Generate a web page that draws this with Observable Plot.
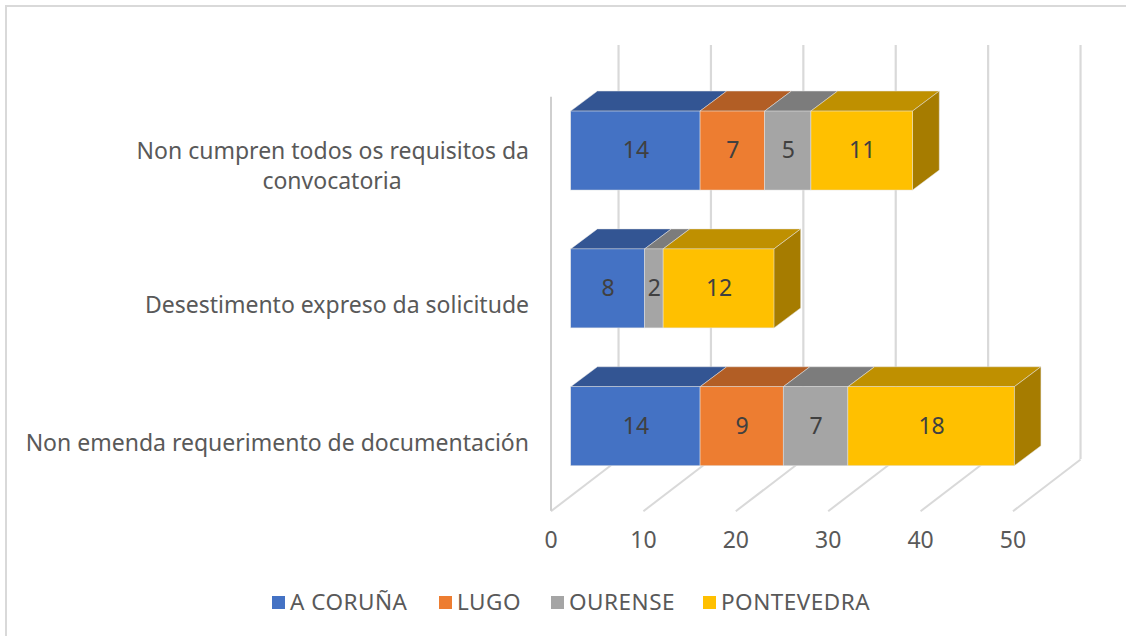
<!DOCTYPE html>
<html><head><meta charset="utf-8">
<script src="https://cdn.jsdelivr.net/npm/d3@7"></script>
<script src="https://cdn.jsdelivr.net/npm/@observablehq/plot@0.6"></script>
<style>
html,body{margin:0;padding:0;background:#fff;width:1126px;height:636px;overflow:hidden;font-family:"Noto Sans",sans-serif}
#frameTop{position:absolute;left:5px;top:5px;width:1121px;height:2px;background:#d9d9d9}
#frameLeft{position:absolute;left:5px;top:5px;width:2px;height:631px;background:#d9d9d9}
#chart{position:absolute;left:0;top:0}
#chart svg{display:block;background:transparent}
#legend{position:absolute;left:0;top:585px;width:1126px;height:51px;color:#595959;font-size:22.5px;letter-spacing:.5px}
.item{position:absolute;top:2px;height:30px;line-height:30px;white-space:nowrap}
.sw{position:absolute}
</style></head><body>
<div id="frameTop"></div><div id="frameLeft"></div><div id="chart"></div><div id="legend"></div>
<script>
const categories = ["Non emenda requerimento de documentación","Desestimento expreso da solicitude","Non cumpren todos os requisitos da"];
const secondLine = ["","","convocatoria"];
const series = ["A CORUÑA","LUGO","OURENSE","PONTEVEDRA"];
const coruna = [14,8,14];
const lugo = [9,null,7];
const ourense = [7,2,5];
const pontevedra = [18,12,11];
const xTicks = [0,10,20,30,40,50];
const frontColors = ["#4472C4","#ED7D31","#A5A5A5","#FFC000"];
const topColors = ["#335593","#B25E25","#7C7C7C","#BF9000"];
const sideColor = "#A67C00";

// geometry in scale units
const levelBase = 0.326, levelHeight = 0.573;
const barX0 = 2.186, barDepthX = 2.89, barDepthY = 0.145;
const wallDepthX = 7.31, wallDepthY = 0.375, wallTop = 3.378;
const oneLineShift = 0.112;

const columns = [coruna,lugo,ourense,pontevedra];
const segs = [];
categories.forEach((c,i)=>{
  let s = barX0;
  columns.forEach((col,j)=>{
    const v = col[i];
    if(v==null) return;
    segs.push({i,j,value:v,x1:s,x2:s+v,y1:levelBase+i,y2:levelBase+i+levelHeight});
    s+=v;
  });
});
const last = categories.map((c,i)=>segs.filter(d=>d.i===i).at(-1));
const topPts = segs.flatMap((d,k)=>[
  {k,j:d.j,a:d.x1,b:d.x2,y:d.y2},
  {k,j:d.j,a:d.x1+barDepthX,b:d.x2+barDepthX,y:d.y2+barDepthY}]);
const sidePts = last.flatMap((d,k)=>[
  {k,x:d.x2,lo:d.y1,hi:d.y2},
  {k,x:d.x2+barDepthX,lo:d.y1+barDepthY,hi:d.y2+barDepthY}]);
const edge = "#e4e4e4";
const labelY = (d,i)=>levelBase+i+levelHeight/2-(secondLine[i]?0:oneLineShift);

const plot = Plot.plot({
  width:1126,height:585,
  marginLeft:550.5,marginRight:113.5,marginTop:45,marginBottom:74.3,
  x:{domain:[0,50],axis:null},
  y:{domain:[0,wallTop],axis:null},
  style:{fontFamily:'"Noto Sans",sans-serif',background:"transparent",overflow:"visible"},
  marks:[
    Plot.ruleX(xTicks,{x:d=>d+wallDepthX,y1:wallDepthY,y2:wallTop,stroke:"#d9d9d9",strokeWidth:2.2}),
    Plot.link(xTicks,{x1:d=>d,y1:0,x2:d=>d+wallDepthX,y2:wallDepthY,stroke:"#d9d9d9",strokeWidth:2}),
    Plot.ruleX([0],{y1:0,y2:wallTop-wallDepthY,stroke:"#cfcfcf",strokeWidth:2}),
    Plot.areaX(topPts,{x1:"a",x2:"b",y:"y",z:"k",fill:d=>topColors[d.j],stroke:edge,strokeWidth:.5}),
    Plot.areaY(sidePts,{x:"x",y1:"lo",y2:"hi",z:"k",fill:sideColor,stroke:edge,strokeWidth:.5}),
    Plot.rect(segs,{x1:"x1",x2:"x2",y1:"y1",y2:"y2",fill:d=>frontColors[d.j],stroke:edge,strokeWidth:.5}),
    Plot.text(segs,{x:d=>(d.x1+d.x2)/2,y:d=>(d.y1+d.y2)/2,text:d=>String(d.value),fill:"#404040",fontSize:23}),
    Plot.text(categories,{x:0,y:labelY,text:d=>d,textAnchor:"end",dx:-22,dy:1,fill:"#595959",fontSize:23,letterSpacing:.45}),
    Plot.text(secondLine,{x:0,y:labelY,text:d=>d,textAnchor:"middle",dx:-219,dy:31,fill:"#595959",fontSize:23,letterSpacing:.45}),
    Plot.axisX({ticks:xTicks,tickSize:0,tickPadding:20,fontSize:23,color:"#595959",label:null,anchor:"bottom",tickFormat:d=>String(d)})
  ]
});
document.getElementById("chart").append(plot);

const legendX = [272,439,551,703];
const leg = document.getElementById("legend");
series.forEach((s,i)=>{
  const it = document.createElement("div");
  it.className="item"; it.style.left=legendX[i]+"px"; it.style.paddingLeft="18px";
  const sw = document.createElement("div");
  sw.className="sw"; sw.style.cssText+=`left:0;top:9px;width:13px;height:13px;background:${frontColors[i]}`;
  it.append(sw, document.createTextNode(s));
  leg.append(it);
});
</script></body></html>
